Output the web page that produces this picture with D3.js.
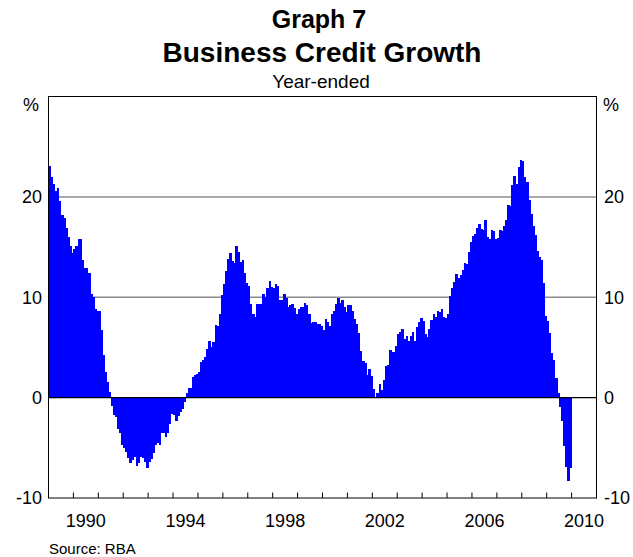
<!DOCTYPE html>
<html>
<head>
<meta charset="utf-8">
<script src="https://cdn.jsdelivr.net/npm/d3@7"></script>
<style>
  body { margin: 0; background: #fff; }
  svg { display: block; }
  text { font-family: "Liberation Sans", Arial, Helvetica, sans-serif; fill: #000; }
</style>
</head>
<body>
<svg id="chart" width="633" height="557"></svg>
<script>
// Monthly year-ended growth in business credit, per cent, from January 1989
const firstYear = 1989;
const lastYear = 2011;
const growth = [
  23.1, 22.0, 21.3, 20.6, 20.9, 19.6, 18.2, 17.9, 16.9, 16.0, 15.1, 14.4,   // 1989
  14.8, 15.1, 15.8, 15.8, 13.7, 12.9, 12.9, 12.4, 10.3, 10.0, 8.8, 8.6,     // 1990
  8.6, 6.7, 4.2, 2.6, 1.6, 0.6, -0.8, -1.7, -1.9, -3.1, -3.5, -4.7,         // 1991
  -5.0, -5.4, -6.0, -6.5, -6.2, -5.9, -6.8, -6.5, -5.9, -6.0, -6.4, -7.0,   // 1992
  -6.4, -6.1, -5.5, -4.7, -4.5, -4.7, -3.5, -3.5, -3.9, -3.5, -2.6, -1.6,   // 1993
  -1.7, -2.3, -1.8, -1.4, -1.1, -0.4, 0.5, 1.0, 1.0, 2.1, 2.3, 2.4,         // 1994
  2.6, 3.5, 3.7, 4.0, 4.8, 5.6, 5.0, 5.5, 7.2, 7.1, 8.3, 10.2,              // 1995
  11.3, 12.6, 13.8, 14.4, 13.6, 13.4, 15.1, 14.5, 13.5, 13.7, 12.4, 11.4,   // 1996
  11.1, 9.3, 8.3, 8.0, 9.3, 9.3, 9.3, 10.3, 10.0, 10.9, 11.6, 11.0,         // 1997
  10.9, 11.3, 11.1, 9.7, 9.7, 10.3, 9.9, 9.0, 9.2, 9.3, 8.9, 8.3,           // 1998
  8.8, 9.0, 9.0, 9.4, 9.2, 8.3, 7.4, 7.5, 7.5, 7.3, 7.3, 7.1,               // 1999
  6.7, 7.8, 7.5, 7.1, 8.3, 8.6, 9.3, 9.9, 9.4, 9.7, 9.0, 8.5,               // 2000
  9.2, 9.2, 8.6, 7.8, 7.3, 6.4, 4.6, 3.6, 3.4, 2.3, 2.9, 2.2,               // 2001
  0.9, 0.1, 0.5, 1.4, 0.8, 1.8, 3.2, 3.3, 4.7, 4.5, 4.5, 5.1,               // 2002
  6.3, 6.5, 6.8, 5.8, 6.1, 5.6, 6.1, 6.5, 5.6, 7.0, 7.5, 7.9,               // 2003
  7.6, 6.3, 6.0, 6.8, 7.7, 8.3, 8.0, 8.6, 8.5, 8.8, 8.0, 7.9,               // 2004
  8.3, 10.1, 10.9, 11.5, 12.3, 11.9, 12.2, 12.7, 13.4, 13.3, 14.5, 15.5,    // 2005
  16.1, 16.3, 16.9, 17.3, 16.8, 16.7, 17.7, 16.0, 15.8, 16.7, 16.6, 15.8,   // 2006
  15.9, 16.7, 16.6, 17.1, 17.7, 19.2, 19.1, 21.2, 22.1, 21.3, 23.0, 23.7,   // 2007
  23.6, 22.0, 21.5, 19.7, 18.3, 17.1, 16.2, 14.6, 14.0, 13.7, 11.4, 8.1,    // 2008
  7.6, 6.4, 4.4, 3.7, 2.0, 0.5, -0.9, -2.3, -4.8, -6.9, -8.3, -7.0          // 2009
];
const yTicks = [-10, 0, 10, 20];
const gridValues = [10, 20];
const yearTicks = d3.range(firstYear + 1, lastYear);
const yearLabels = [1990, 1994, 1998, 2002, 2006, 2010];

const svg = d3.select("#chart");
const plot = { left: 48.5, right: 596.5, top: 96.5, bottom: 498 };

const x = d3.scaleLinear().domain([firstYear, lastYear]).range([plot.left, plot.right]);
const y = d3.scaleLinear().domain([-10, 30]).range([plot.bottom, plot.top]);

// Titles
svg.append("text").attr("x", 319).attr("y", 28)
  .attr("text-anchor", "middle").attr("font-size", 25).attr("font-weight", "bold")
  .text("Graph 7");
svg.append("text").attr("x", 322).attr("y", 62)
  .attr("text-anchor", "middle").attr("font-size", 28).attr("font-weight", "bold")
  .text("Business Credit Growth");
svg.append("text").attr("x", 321).attr("y", 88)
  .attr("text-anchor", "middle").attr("font-size", 19)
  .text("Year-ended");

// Horizontal grid lines sit behind the bars
svg.append("g").selectAll("line").data(gridValues).join("line")
  .attr("x1", plot.left).attr("x2", plot.right)
  .attr("y1", d => y(d)).attr("y2", d => y(d))
  .attr("stroke", "#8c8c8c").attr("stroke-width", 1.5);

// Monthly bars
const monthStart = i => firstYear + i / 12;
svg.append("g").attr("shape-rendering", "crispEdges")
  .selectAll("rect").data(growth).join("rect")
  .attr("x", (d, i) => x(monthStart(i)))
  .attr("width", (d, i) => x(monthStart(i + 1)) - x(monthStart(i)) + 0.5)
  .attr("y", d => y(Math.max(d, 0)))
  .attr("height", d => Math.abs(y(d) - y(0)))
  .attr("fill", "#0000ff");

// Zero line
svg.append("line")
  .attr("x1", plot.left).attr("x2", plot.right)
  .attr("y1", y(0)).attr("y2", y(0))
  .attr("stroke", "#000").attr("stroke-width", 1.2);

// Year ticks pointing up from the bottom axis
svg.append("g").selectAll("line").data(yearTicks).join("line")
  .attr("x1", d => x(d)).attr("x2", d => x(d))
  .attr("y1", plot.bottom).attr("y2", plot.bottom - 5.5)
  .attr("stroke", "#000").attr("stroke-width", 1);

// Frame
svg.append("rect")
  .attr("x", plot.left).attr("y", plot.top)
  .attr("width", plot.right - plot.left).attr("height", plot.bottom - plot.top)
  .attr("fill", "none").attr("stroke", "#000").attr("stroke-width", 1);

// Year labels centred within each labelled year
svg.append("g").selectAll("text").data(yearLabels).join("text")
  .attr("x", d => x(d + 0.5)).attr("y", 527)
  .attr("text-anchor", "middle").attr("font-size", 18)
  .text(d => d);

// Value labels on both sides
const yAxisLeft = svg.append("g");
yAxisLeft.selectAll("text").data(yTicks).join("text")
  .attr("x", 42).attr("y", d => y(d)).attr("dy", "0.36em")
  .attr("text-anchor", "end").attr("font-size", 18)
  .text(d => d);
const yAxisRight = svg.append("g");
yAxisRight.selectAll("text").data(yTicks).join("text")
  .attr("x", 604).attr("y", d => y(d)).attr("dy", "0.36em")
  .attr("text-anchor", "start").attr("font-size", 18)
  .text(d => d);

svg.append("text").attr("x", 31).attr("y", 111)
  .attr("text-anchor", "middle").attr("font-size", 18).text("%");
svg.append("text").attr("x", 603).attr("y", 111)
  .attr("text-anchor", "start").attr("font-size", 18).text("%");

// Source note
svg.append("text").attr("x", 49).attr("y", 554)
  .attr("font-size", 15).text("Source: RBA");
</script>
</body>
</html>
